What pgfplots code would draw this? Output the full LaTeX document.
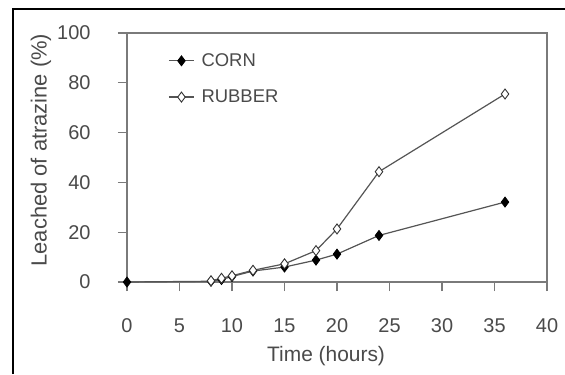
\documentclass[border=0pt]{standalone}
\usepackage{fontspec}
\setmainfont{Liberation Sans}
\usepackage{pgfplots}
\pgfplotsset{compat=1.18}
\definecolor{txt}{HTML}{4A4A4A}
\definecolor{axc}{HTML}{7A7A7A}
\definecolor{lnc}{HTML}{555555}
\begin{document}
\begin{tikzpicture}[x=1bp,y=1bp]
\useasboundingbox (-127,-92) rectangle (438,282);
\fill[white] (-127,-92) rectangle (438,282);
\draw[black,line width=2bp] (-114,-92) -- (-114,273) -- (438,273);
\begin{axis}[
  at={(0,0)}, anchor=south west,
  scale only axis, width=420bp, height=249bp,
  xmin=0, xmax=40, ymin=0, ymax=100,
  xtick={0,5,...,40}, ytick={0,20,...,100},
  axis line style={axc, line width=1.2bp},
  tick style={axc, line width=1.2bp},
  tick align=outside, major tick length=9bp,
  tick pos=left,
  ticklabel style={font=\fontsize{20}{24}\selectfont, text=txt},
  /pgf/number format/assume math mode=true,
  xticklabel shift=24bp, yticklabel shift=24bp,
  xlabel={Time (hours)},
  ylabel={Leached of atrazine (\%)},
  xlabel style={at={(axis description cs:0.474,-0.297)}, anchor=center, font=\fontsize{21}{24}\selectfont, text=txt},
  ylabel style={at={(axis description cs:-0.205,0.53)}, anchor=center, font=\fontsize{22}{26}\selectfont, text=txt},
  clip=false,
  legend style={draw=none, fill=none, at={(axis description cs:0.098,0.93)}, anchor=north west,
    text=txt, row sep=16bp, inner sep=0pt,
    nodes={inner sep=3bp, font=\fontsize{18.5}{22}\selectfont}},
  legend cell align=left,
  legend image code/.code={\draw[mark repeat=2,mark phase=2,#1] plot coordinates {(0bp,0bp) (12.5bp,0bp) (25bp,0bp)};
    \path (29bp,0bp);},
]
\addplot[lnc, line width=1.2bp, mark=diamond*, mark size=5bp, mark options={solid, fill=black, draw=black, line width=0.8bp}]
  coordinates {(0,0) (8,0.3) (9,1.0) (10,2.2) (12,4.4) (15,6.0) (18,8.8) (20,11.2) (24,18.7) (36,32.1)};
\addlegendentry{CORN}
\addplot[lnc, line width=1.2bp, mark=diamond*, mark size=5bp, mark options={solid, fill=white, draw=black!80, line width=0.9bp}]
  coordinates {(8,0.5) (9,1.5) (10,2.5) (12,4.7) (15,7.3) (18,12.6) (20,21.3) (24,44.3) (36,75.5)};
\addlegendentry{RUBBER}
\end{axis}
\end{tikzpicture}
\end{document}
